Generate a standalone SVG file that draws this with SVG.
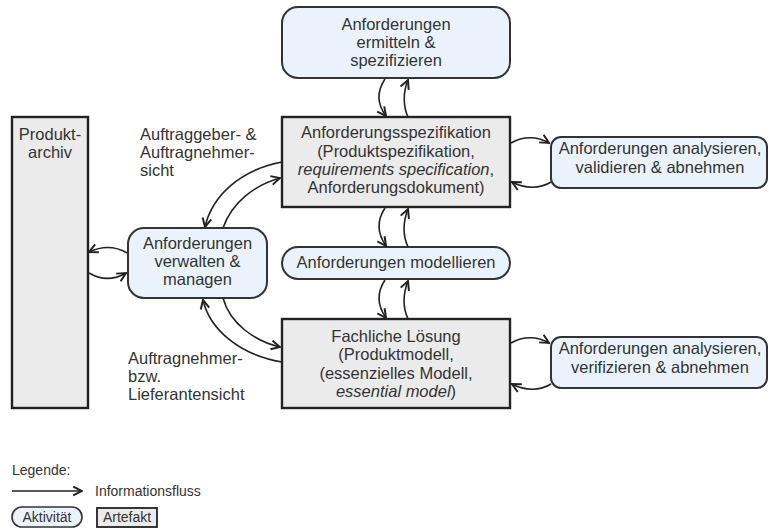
<svg xmlns="http://www.w3.org/2000/svg" width="769" height="531" viewBox="0 0 769 531">
  <defs>
    <marker id="arrow" viewBox="0 0 10 10" refX="9" refY="5" markerWidth="11" markerHeight="11" markerUnits="userSpaceOnUse" orient="auto">
      <path d="M1,1 L9,5 L1,9" fill="none" stroke="#222" stroke-width="1.8"/>
    </marker>
    <style>
      text { font-family: "Liberation Sans", Arial, sans-serif; font-size: 16.5px; fill: #333; }
      .c { text-anchor: middle; }
      .it { font-style: italic; }
      .act { fill: #eaf3fc; stroke: #333; stroke-width: 2; }
      .art { fill: #ebebeb; stroke: #222; stroke-width: 2.4; }
      .flow { fill: none; stroke: #222; stroke-width: 1.6; marker-end: url(#arrow); }
      .leg { font-size: 14px; }
    </style>
  </defs>
  <rect width="769" height="531" fill="#fff"/>

  <!-- Activities and artefacts -->
  <g id="ermitteln">
    <rect class="act" x="282" y="7" width="228" height="71" rx="16"/>
    <text class="c" x="396" y="30">Anforderungen</text>
    <text class="c" x="396" y="48">ermitteln &amp;</text>
    <text class="c" x="396" y="66">spezifizieren</text>
  </g>

  <g id="spezifikation">
    <rect class="art" x="282" y="117" width="228" height="90"/>
    <text class="c" x="396" y="138">Anforderungsspezifikation</text>
    <text class="c" x="396" y="157">(Produktspezifikation,</text>
    <text class="c" x="396" y="175"><tspan class="it">requirements specification</tspan>,</text>
    <text class="c" x="396" y="193">Anforderungsdokument)</text>
  </g>

  <g id="validieren">
    <rect class="act" x="551" y="137" width="216" height="51" rx="10"/>
    <text class="c" x="660" y="154">Anforderungen analysieren,</text>
    <text class="c" x="660" y="173">validieren &amp; abnehmen</text>
  </g>

  <g id="produktarchiv">
    <rect class="art" x="12" y="117" width="76" height="291"/>
    <text class="c" x="50" y="140">Produkt-</text>
    <text class="c" x="50" y="158">archiv</text>
  </g>

  <g id="verwalten">
    <rect class="act" x="128" y="228" width="139" height="70" rx="16"/>
    <text class="c" x="197.5" y="249">Anforderungen</text>
    <text class="c" x="197.5" y="267">verwalten &amp;</text>
    <text class="c" x="197.5" y="285">managen</text>
  </g>

  <g id="modellieren">
    <rect class="act" x="282" y="247" width="228" height="32" rx="16"/>
    <text class="c" x="396" y="268">Anforderungen modellieren</text>
  </g>

  <g id="fachliche-loesung">
    <rect class="art" x="282" y="319" width="228" height="89"/>
    <text class="c" x="396" y="342">Fachliche Lösung</text>
    <text class="c" x="396" y="360">(Produktmodell,</text>
    <text class="c" x="396" y="379">(essenzielles Modell,</text>
    <text class="c" x="396" y="397"><tspan class="it">essential model</tspan>)</text>
  </g>

  <g id="verifizieren">
    <rect class="act" x="551" y="337" width="216" height="51" rx="10"/>
    <text class="c" x="660" y="354">Anforderungen analysieren,</text>
    <text class="c" x="660" y="373">verifizieren &amp; abnehmen</text>
  </g>

  <!-- Viewpoint labels -->
  <g id="label-auftraggeber">
    <text x="140" y="140">Auftraggeber- &amp;</text>
    <text x="140" y="158">Auftragnehmer-</text>
    <text x="140" y="176">sicht</text>
  </g>
  <g id="label-auftragnehmer">
    <text x="128" y="364">Auftragnehmer-</text>
    <text x="128" y="382">bzw.</text>
    <text x="128" y="400">Lieferantensicht</text>
  </g>

  <!-- Information flows -->
  <g id="connectors">
    <path class="flow" d="M385,79 C377,91 377,104 386,116"/>
    <path class="flow" d="M408,117 C403,106 403,92 408,80"/>

    <path class="flow" d="M385,208 C377,220 377,233 386,246"/>
    <path class="flow" d="M408,247 C403,236 403,222 408,209"/>

    <path class="flow" d="M385,280 C377,292 377,305 386,318"/>
    <path class="flow" d="M408,319 C403,308 403,294 408,281"/>

    <path class="flow" d="M511,143 C523,136 537,136 549,143"/>
    <path class="flow" d="M551,182 C540,189 525,189 512,182"/>

    <path class="flow" d="M511,343 C523,336 537,336 549,343"/>
    <path class="flow" d="M551,384 C540,391 525,391 512,384"/>

    <path class="flow" d="M282,162 C240,170 212,196 205,227"/>
    <path class="flow" d="M223,228 C232,202 255,185 280,178"/>

    <path class="flow" d="M282,362 C240,355 210,330 203,300"/>
    <path class="flow" d="M223,298 C230,324 255,341 280,347"/>

    <path class="flow" d="M127,253 C115,246 102,246 89,252"/>
    <path class="flow" d="M89,273 C101,280 114,280 126,273"/>
  </g>

  <!-- Legend -->
  <g id="legende">
    <text class="leg" x="12" y="475">Legende:</text>
    <line class="flow" x1="12" y1="491" x2="82" y2="491"/>
    <text class="leg" x="95" y="496">Informationsfluss</text>
    <rect class="act" x="12" y="507" width="70" height="20" rx="10" style="stroke-width:1.6"/>
    <text class="leg c" x="47" y="522">Aktivität</text>
    <rect class="art" x="97" y="508" width="60" height="19" style="stroke-width:1.8"/>
    <text class="leg c" x="127" y="522">Artefakt</text>
  </g>
</svg>
